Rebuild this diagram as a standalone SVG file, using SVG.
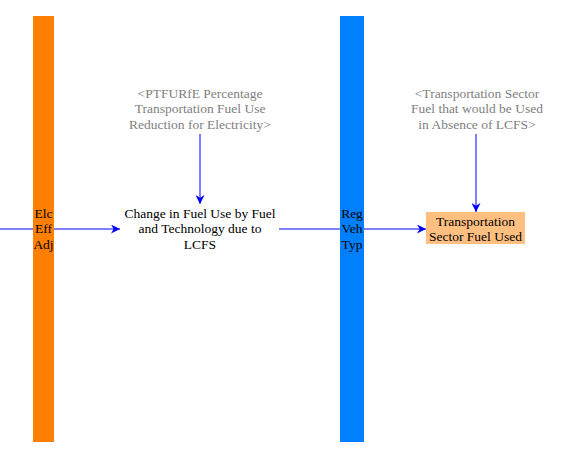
<svg xmlns="http://www.w3.org/2000/svg" width="567" height="456" viewBox="0 0 567 456">
<style>
text{font-family:'Liberation Serif','Times New Roman',serif;font-size:13.5px;text-anchor:middle}
.g{fill:#808080}
.k{fill:#000}
.c{stroke:#0000FF;stroke-width:1;fill:none}
</style>
<defs>
<marker id="ah" viewBox="0 0 10 10" refX="10" refY="5" markerWidth="12" markerHeight="9" markerUnits="userSpaceOnUse" orient="auto">
<path d="M0,0 L10,5 L0,10 L3,5 Z" fill="#0000FF"/>
</marker>
</defs>
<rect width="567" height="456" fill="#fff"/>
<g id="connectors">
<line class="c" x1="0" y1="229" x2="33" y2="229"/>
<line class="c" x1="54" y1="229" x2="120" y2="229" marker-end="url(#ah)"/>
<line class="c" x1="279" y1="229" x2="340" y2="229"/>
<line class="c" x1="364" y1="229" x2="426" y2="229" marker-end="url(#ah)"/>
<line class="c" x1="200" y1="134" x2="200" y2="204" marker-end="url(#ah)"/>
<line class="c" x1="476" y1="134" x2="476" y2="212" marker-end="url(#ah)"/>
</g>
<g id="elc-eff-adj">
<rect x="33" y="16" width="21" height="426" fill="#FF8000"/>
<text class="k" x="43.5" y="217.5">Elc</text>
<text class="k" x="43.5" y="233">Eff</text>
<text class="k" x="43.5" y="248.5">Adj</text>
</g>
<g id="reg-veh-typ">
<rect x="340" y="16" width="24" height="426" fill="#0080FF"/>
<text class="k" x="352" y="217.5">Reg</text>
<text class="k" x="352" y="233">Veh</text>
<text class="k" x="352" y="248.5">Typ</text>
</g>
<g id="change-fuel-use">
<text class="k" x="200" y="217.5">Change in Fuel Use by Fuel</text>
<text class="k" x="200" y="233">and Technology due to</text>
<text class="k" x="200" y="248.5">LCFS</text>
</g>
<g id="ptfurfe">
<text class="g" x="200" y="97.5">&lt;PTFURfE Percentage</text>
<text class="g" x="200" y="113">Transportation Fuel Use</text>
<text class="g" x="200" y="128.5">Reduction for Electricity&gt;</text>
</g>
<g id="fuel-absence-lcfs">
<text class="g" x="477" y="97.5">&lt;Transportation Sector</text>
<text class="g" x="477" y="113">Fuel that would be Used</text>
<text class="g" x="477" y="128.5">in Absence of LCFS&gt;</text>
</g>
<g id="transport-fuel-used">
<rect x="426" y="212" width="99" height="32" fill="#FFBF80"/>
<text class="k" x="475.5" y="226">Transportation</text>
<text class="k" x="475.5" y="240.5">Sector Fuel Used</text>
</g>
</svg>
